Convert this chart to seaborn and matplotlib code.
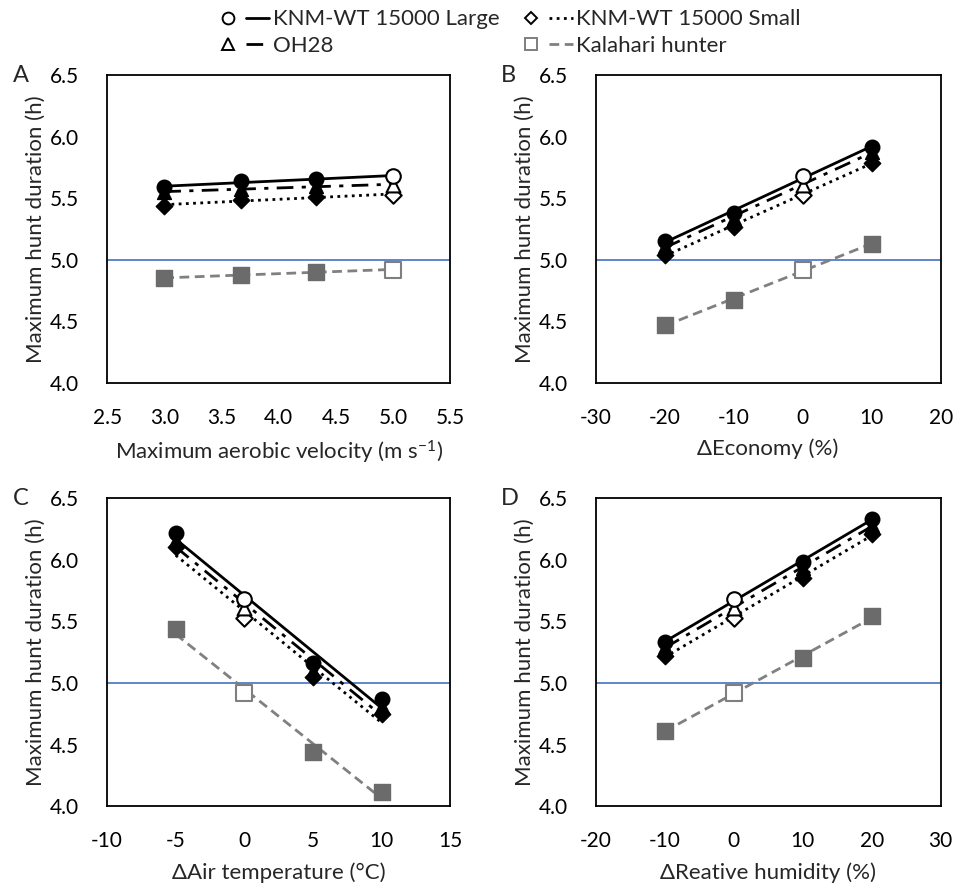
import matplotlib
matplotlib.use("Agg")
import matplotlib.pyplot as plt
from matplotlib.lines import Line2D
from matplotlib.legend_handler import HandlerTuple
import seaborn as sns
import pandas as pd

# x values for each panel
velocity = [3.0, 3.67, 4.33, 5.0]
economy = [-20, -10, 0, 10]
air_temp = [-5, 0, 5, 10]
humidity = [-10, 0, 10, 20]

# A - max aerobic velocity
a_large = [5.59, 5.64, 5.66, 5.68]
a_oh28 = [5.55, 5.58, 5.60, 5.61]
a_small = [5.44, 5.49, 5.51, 5.53]
a_kalahari = [4.85, 4.88, 4.90, 4.92]

# B - economy
b_large = [5.15, 5.38, 5.68, 5.92]
b_oh28 = [5.11, 5.34, 5.61, 5.88]
b_small = [5.04, 5.27, 5.53, 5.79]
b_kalahari = [4.47, 4.67, 4.92, 5.13]

# C - air temperature
c_large = [6.22, 5.68, 5.16, 4.87]
c_oh28 = [6.16, 5.61, 5.10, 4.81]
c_small = [6.10, 5.53, 5.05, 4.75]
c_kalahari = [5.44, 4.92, 4.44, 4.12]

# D - relative humidity
d_large = [5.33, 5.68, 5.98, 6.33]
d_oh28 = [5.29, 5.61, 5.93, 6.28]
d_small = [5.22, 5.53, 5.85, 6.21]
d_kalahari = [4.61, 4.92, 5.20, 5.54]

series_names = ["KNM-WT 15000 Large", "OH28", "KNM-WT 15000 Small", "Kalahari hunter"]

sns.set_style("white")
plt.rcParams["font.family"] = ["Lato", "DejaVu Sans"]
plt.rcParams["mathtext.fontset"] = "custom"
plt.rcParams["mathtext.rm"] = "Lato"
plt.rcParams["mathtext.default"] = "regular"

styles = {
    "KNM-WT 15000 Large": dict(marker="o", ls="-", lc="black", fc="black", ms=110),
    "OH28": dict(marker="^", ls=(0, (6, 3, 1.5, 3)), lc="black", fc="black", ms=100),
    "KNM-WT 15000 Small": dict(marker="D", ls=(0, (1, 1.6)), lc="black", fc="black", ms=70),
    "Kalahari hunter": dict(marker="s", ls=(0, (3.5, 2)), lc="#808080", fc="#6b6b6b", ms=140),
}

panels = [
    ("A", velocity, [a_large, a_oh28, a_small, a_kalahari], 5.0,
     "Maximum aerobic velocity (m s$^{-1}$)", (2.5, 5.5), 0.5, "%.1f"),
    ("B", economy, [b_large, b_oh28, b_small, b_kalahari], 0,
     "\u0394Economy (%)", (-30, 20), 10, "%d"),
    ("C", air_temp, [c_large, c_oh28, c_small, c_kalahari], 0,
     "\u0394Air temperature (\u00b0C)", (-10, 15), 5, "%d"),
    ("D", humidity, [d_large, d_oh28, d_small, d_kalahari], 0,
     "\u0394Reative humidity (%)", (-20, 30), 10, "%d"),
]

fig = plt.figure(figsize=(9.56, 8.88), dpi=100)
positions = [
    [0.112, 0.569, 0.359, 0.346],
    [0.623, 0.569, 0.361, 0.346],
    [0.112, 0.092, 0.359, 0.347],
    [0.623, 0.092, 0.361, 0.347],
]

for (letter, xs, ys, base, xlabel, xlim, xstep, fmt), pos in zip(panels, positions):
    ax = fig.add_axes(pos)
    rows = []
    for name, vals in zip(series_names, ys):
        for x, y in zip(xs, vals):
            rows.append({"x": x, "y": y, "series": name, "base": x == base})
    df = pd.DataFrame(rows)

    ax.axhline(5.0, color="#4472C4", lw=1.2, zorder=1)

    for name in series_names[::-1]:
        st = styles[name]
        sub = df[df["series"] == name]
        sns.regplot(data=sub, x="x", y="y", scatter=False, ci=None, truncate=True,
                    ax=ax, line_kws=dict(color=st["lc"], ls=st["ls"], lw=2, zorder=2))
        filled = sub[~sub["base"]]
        open_ = sub[sub["base"]]
        sns.scatterplot(data=filled, x="x", y="y", marker=st["marker"], s=st["ms"],
                        color=st["fc"], edgecolor=st["fc"], linewidth=1, ax=ax, zorder=3)
        sns.scatterplot(data=open_, x="x", y="y", marker=st["marker"], s=st["ms"],
                        color="white", edgecolor=st["lc"] if name != "Kalahari hunter" else "#7f7f7f",
                        linewidth=1.5, ax=ax, zorder=3)

    ax.set_xlim(*xlim)
    ax.set_ylim(4.0, 6.5)
    xt = []
    v = xlim[0]
    while v <= xlim[1] + 1e-9:
        xt.append(v)
        v += xstep
    ax.set_xticks(xt)
    ax.set_yticks([4.0, 4.5, 5.0, 5.5, 6.0, 6.5])
    ax.xaxis.set_major_formatter(matplotlib.ticker.FormatStrFormatter(fmt))
    ax.yaxis.set_major_formatter(matplotlib.ticker.FormatStrFormatter("%.1f"))
    ax.tick_params(axis="x", direction="in", length=6, width=1.3, pad=18, labelsize=15, colors="black")
    ax.tick_params(axis="y", direction="in", length=6, width=1.3, pad=20, labelsize=15, colors="black")
    for sp in ax.spines.values():
        sp.set_color("black")
        sp.set_linewidth(1.3)
    ax.set_xlabel(xlabel, fontsize=16, labelpad=8)
    ax.set_ylabel("Maximum hunt duration (h)", fontsize=16, labelpad=3)
    ax.text(-0.275, 1.0, letter, transform=ax.transAxes, fontsize=17, ha="left", va="center")

handles = []
for name in series_names:
    st = styles[name]
    edge = "black" if name != "Kalahari hunter" else "#7f7f7f"
    m = Line2D([], [], marker=st["marker"], ls="none", mfc="white", mec=edge, mew=1.4,
               ms=8.5 if st["marker"] != "D" else 6.5)
    l = Line2D([], [], color=st["lc"], ls=st["ls"], lw=2)
    handles.append((m, l))

fig.legend(handles, series_names, ncol=2, loc="upper left", bbox_to_anchor=(0.205, 1.012),
           frameon=False, fontsize=16, handler_map={tuple: HandlerTuple(ndivide=None, pad=0.3)},
           handlelength=2.4, handletextpad=0.15, columnspacing=0.9, labelspacing=0.3)

fig.savefig("out.png", dpi=100)
